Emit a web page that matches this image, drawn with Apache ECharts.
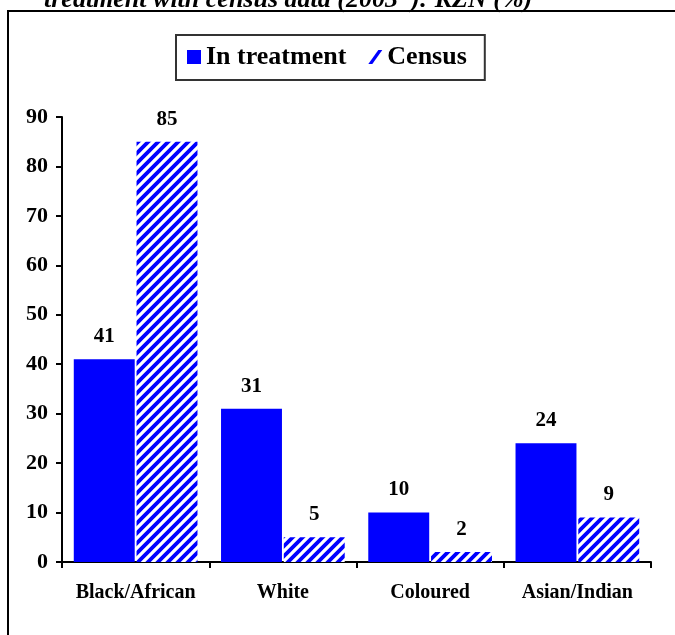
<!DOCTYPE html>
<html>
<head>
<meta charset="utf-8">
<style>
  html, body { margin: 0; padding: 0; background: #fff; }
  #chart { width: 675px; height: 635px; }
</style>
<script src="https://cdn.jsdelivr.net/npm/echarts@6/dist/echarts.min.js"></script>
</head>
<body>
<div id="chart"></div>
<script>
// Population groups and their shares (%)
const categories = ['Black/African', 'White', 'Coloured', 'Asian/Indian'];
const inTreatment = [41, 31, 10, 24];
const census = [85, 5, 2, 9];
const seriesNames = ['In treatment', 'Census'];
const yTicks = [0, 10, 20, 30, 40, 50, 60, 70, 80, 90];
const captionText = 'treatment with census data (2003*): KZN (%)';

const BLUE = '#0000FF';
const FONT = '"Liberation Serif", "Times New Roman", serif';

// Diagonal "/" hatch used for the census bars
function makeHatch() {
  const size = 10;
  const c = document.createElement('canvas');
  c.width = size; c.height = size;
  const ctx = c.getContext('2d');
  ctx.fillStyle = '#fff';
  ctx.fillRect(0, 0, size, size);
  ctx.strokeStyle = BLUE;
  ctx.lineWidth = 3.8;
  ctx.beginPath();
  ctx.moveTo(-size, 2 * size); ctx.lineTo(2 * size, -size);
  ctx.moveTo(-size, size); ctx.lineTo(size, -size);
  ctx.moveTo(0, 2 * size); ctx.lineTo(2 * size, 0);
  ctx.stroke();
  return c;
}
const hatch = { image: makeHatch(), repeat: 'repeat' };

const chart = echarts.init(document.getElementById('chart'), null, { renderer: 'canvas' });

const labelStyle = {
  show: true,
  position: 'top',
  distance: 12,
  fontFamily: FONT,
  fontWeight: 'bold',
  fontSize: 21,
  color: '#000'
};

chart.setOption({
  backgroundColor: '#fff',
  animation: false,
  graphic: [
    {
      type: 'rect',
      shape: { x: 8, y: 11, width: 700, height: 700 },
      style: { fill: 'none', stroke: '#000', lineWidth: 2 },
      silent: true
    },
    {
      type: 'text',
      left: 44,
      top: -13,
      style: {
        text: captionText,
        fontFamily: FONT,
        fontWeight: 'bold',
        fontStyle: 'italic',
        fontSize: 26,
        fill: '#000'
      },
      silent: true
    }
  ],
  legend: {
    left: 176,
    top: 35,
    orient: 'horizontal',
    padding: [9, 18, 10, 11],
    borderColor: '#333',
    borderWidth: 2,
    itemWidth: 14,
    itemHeight: 14,
    itemGap: 22,
    textStyle: { fontFamily: FONT, fontWeight: 'bold', fontSize: 26, color: '#000' },
    data: [
      { name: seriesNames[0], icon: 'rect', itemStyle: { color: BLUE } },
      { name: seriesNames[1], icon: 'path://M0,14 L4,14 L14,0 L10,0 Z', itemStyle: { color: BLUE } }
    ]
  },
  grid: { left: 62, right: 24, top: 117, bottom: 73, containLabel: false },
  xAxis: {
    type: 'category',
    data: categories,
    axisLine: { lineStyle: { color: '#000', width: 2 } },
    axisTick: { show: true, interval: 0, length: 6, lineStyle: { color: '#000', width: 2 } },
    axisLabel: {
      interval: 0,
      margin: 21,
      fontFamily: FONT,
      fontWeight: 'bold',
      fontSize: 20,
      color: '#000'
    }
  },
  yAxis: {
    type: 'value',
    min: yTicks[0],
    max: yTicks[yTicks.length - 1],
    interval: yTicks[1] - yTicks[0],
    axisLine: { show: true, lineStyle: { color: '#000', width: 2 } },
    axisTick: { show: true, length: 6, lineStyle: { color: '#000', width: 2 } },
    splitLine: { show: false },
    axisLabel: {
      margin: 14,
      fontFamily: FONT,
      fontWeight: 'bold',
      fontSize: 22,
      color: '#000'
    }
  },
  series: [
    {
      name: seriesNames[0],
      type: 'bar',
      data: inTreatment,
      barGap: '3%',
      barCategoryGap: '16%',
      itemStyle: { color: BLUE },
      label: labelStyle
    },
    {
      name: seriesNames[1],
      type: 'bar',
      data: census,
      barGap: '3%',
      barCategoryGap: '16%',
      itemStyle: { color: hatch },
      label: labelStyle
    }
  ]
});
</script>
</body>
</html>
